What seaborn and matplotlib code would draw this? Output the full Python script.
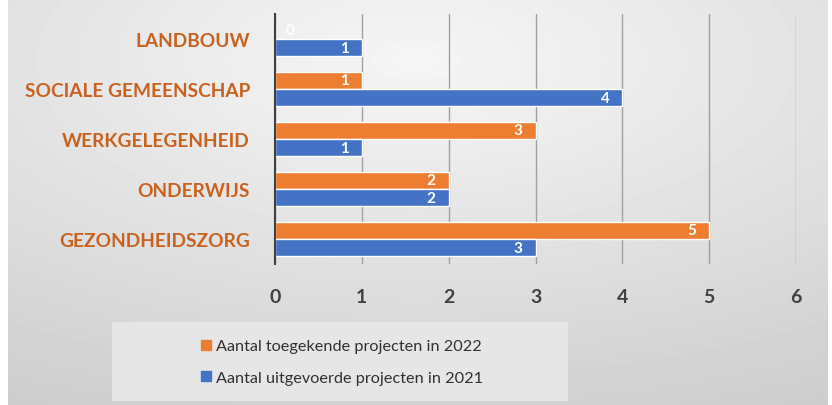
import numpy as np
import pandas as pd
import matplotlib
matplotlib.use("Agg")
import matplotlib.pyplot as plt
from matplotlib.patches import Rectangle, Patch
import seaborn as sns

# --- data ---
categories = ['LANDBOUW', 'SOCIALE GEMEENSCHAP', 'WERKGELEGENHEID', 'ONDERWIJS', 'GEZONDHEIDSZORG']
series_2022 = [0, 1, 3, 2, 5]
series_2021 = [1, 4, 1, 2, 3]
label_2022 = 'Aantal toegekende projecten in 2022'
label_2021 = 'Aantal uitgevoerde projecten in 2021'
x_ticks = [0, 1, 2, 3, 4, 5, 6]

ORANGE = '#ED7D31'
BLUE = '#4472C4'
LABEL_ORANGE = '#C9621F'
TEXT = '#404040'

df = pd.DataFrame({
    'categorie': categories * 2,
    'aantal': series_2022 + series_2021,
    'reeks': [label_2022] * len(categories) + [label_2021] * len(categories),
})

sns.set_style('white')
plt.rcParams['font.family'] = ['Lato', 'DejaVu Sans']

fig = plt.figure(figsize=(8.32, 4.06), dpi=100)

# soft grey gradient background, as in the screenshot (white strips at the edges)
bg = fig.add_axes([0, 0, 1, 1], zorder=-10)
yy, xx = np.mgrid[0:1:406j, 0:1:832j]
r = np.sqrt(((xx - 0.5) / 1.1) ** 2 + ((yy - 0.15) / 1.0) ** 2)
shade = 0.965 - 0.17 * r
shade[:, :8] = 1.0
shade[:, 828:] = 1.0
bg.imshow(shade, cmap='gray', vmin=0, vmax=1, aspect='auto', extent=[0, 1, 1, 0])
bg.axis('off')

ax = fig.add_axes([275 / 832, 1 - 265 / 406, 521 / 832, 250 / 406])
ax.set_facecolor('none')
sns.barplot(data=df, y='categorie', x='aantal', hue='reeks', orient='h',
            order=categories, hue_order=[label_2022, label_2021],
            palette=[ORANGE, BLUE], width=0.7, gap=0.04, saturation=1,
            legend=False, ax=ax, zorder=3)

ax.set_xlim(0, 6)
ax.set_ylim(len(categories) - 0.5, -0.5)
ax.set_xticks(x_ticks)
ax.grid(axis='x', color='#a0a0a0', linewidth=1, zorder=0)
ax.set_axisbelow(True)
for side in ['top', 'right', 'bottom']:
    ax.spines[side].set_visible(False)
ax.spines['left'].set_color('#404040')
ax.spines['left'].set_linewidth(1.5)
ax.spines['left'].set_zorder(5)
ax.tick_params(axis='x', length=0, pad=17, labelsize=14, labelcolor=TEXT)
ax.tick_params(axis='y', length=0, pad=18, labelsize=13.8, labelcolor=LABEL_ORANGE)
for t in ax.get_xticklabels():
    t.set_fontweight('bold')
for t in ax.get_yticklabels():
    t.set_fontweight('bold')
ax.set_xlabel('')
ax.set_ylabel('')

# value labels inside the bar ends
for p in ax.patches:
    w = p.get_width()
    y = p.get_y() + p.get_height() / 2
    ax.text(max(w - 0.2, 0.17), y, f'{w:.0f}', ha='center', va='center',
            color='white', fontsize=11, fontweight='bold', zorder=6)

# legend box
fig.patches.append(Rectangle((112 / 832, 4 / 406), 456 / 832, 79 / 406,
                             transform=fig.transFigure, facecolor='#e6e6e6',
                             edgecolor='none', zorder=1))
handles = [Patch(color=ORANGE, label=label_2022), Patch(color=BLUE, label=label_2021)]
leg = fig.legend(handles=handles, loc='center', bbox_to_anchor=(342 / 832, 43 / 406),
                 frameon=False, fontsize=11.7, handlelength=0.6, handleheight=0.6,
                 handletextpad=0.3, labelspacing=1.05, labelcolor='#303030')
leg.set_zorder(2)

fig.savefig('out.png', dpi=100)
